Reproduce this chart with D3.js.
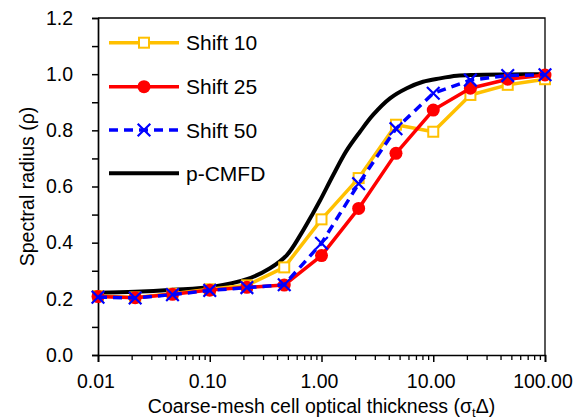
<!DOCTYPE html>
<html>
<head>
<meta charset="utf-8">
<script src="https://cdn.jsdelivr.net/npm/d3@7"></script>
<style>
  html, body { margin: 0; padding: 0; background: #fff; }
  svg { display: block; font-family: "Liberation Sans", Arial, sans-serif; }
</style>
</head>
<body>
<svg id="chart" width="584" height="420"></svg>
<script>
// ---- data ----
const xValues = [0.01, 0.0215, 0.0464, 0.1, 0.215, 0.464, 1, 2.15, 4.64, 10, 21.5, 46.4, 100];
const shift10 = [0.210, 0.205, 0.218, 0.234, 0.248, 0.312, 0.483, 0.630, 0.820, 0.795, 0.926, 0.962, 0.982];
const shift25 = [0.208, 0.204, 0.216, 0.231, 0.241, 0.249, 0.354, 0.522, 0.718, 0.872, 0.950, 0.982, 0.997];
const shift50 = [0.206, 0.203, 0.215, 0.230, 0.240, 0.250, 0.398, 0.610, 0.806, 0.932, 0.979, 0.995, 0.998];
const cmfdX = [0.01, 0.0214, 0.047, 0.107, 0.215, 0.346, 0.49, 0.64, 0.84, 0.97, 1.27, 1.66, 2.21, 2.89, 4.1, 5.8, 8.1, 11.5, 16.3, 22.7, 50, 100];
const cmfdY = [0.222, 0.225, 0.232, 0.243, 0.270, 0.309, 0.356, 0.424, 0.505, 0.550, 0.640, 0.725, 0.795, 0.855, 0.914, 0.950, 0.973, 0.985, 0.994, 0.997, 0.999, 1.000];
const xTickValues = [0.01, 0.1, 1, 10, 100];
const xTickLabels = ["0.01", "0.10", "1.00", "10.00", "100.00"];
const yTickValues = [0, 0.2, 0.4, 0.6, 0.8, 1.0, 1.2];
const seriesNames = ["Shift 10", "Shift 25", "Shift 50", "p-CMFD"];

// ---- layout ----
const svg = d3.select("#chart");
const L = 98, R = 545, T = 18, B = 355;
const x = d3.scaleLog().domain([0.01, 100]).range([L, R]);
const y = d3.scaleLinear().domain([0, 1.2]).range([B, T]);
const fontTick = 19.5;

// frame (top and right)
svg.append("path")
  .attr("d", `M${L},${T}H${R}V${B}`)
  .attr("fill", "none").attr("stroke", "#000").attr("stroke-width", 1.3);

// y axis
const yAxisG = svg.append("g").attr("transform", `translate(${L},0)`)
  .call(d3.axisLeft(y).tickValues(d3.range(0, 1.2001, 0.1)).tickSize(6).tickFormat(""));
yAxisG.select(".domain").attr("stroke-width", 1.7);
yAxisG.selectAll(".tick line").attr("stroke-width", 1.5);
svg.append("g").selectAll("text").data(yTickValues).join("text")
  .attr("x", 73).attr("y", d => y(d)).attr("dy", "0.35em")
  .attr("text-anchor", "end").attr("font-size", fontTick).attr("fill", "#000")
  .text(d => d.toFixed(1));

// x axis: major + minor ticks
const minorTicks = [];
[0.01, 0.1, 1, 10].forEach(d => { for (let k = 2; k <= 9; k++) minorTicks.push(d * k); });
const xAxisG = svg.append("g").attr("transform", `translate(0,${B})`)
  .call(d3.axisBottom(x).tickValues(xTickValues).tickSize(7).tickFormat(""));
xAxisG.select(".domain").attr("stroke-width", 1.7);
xAxisG.selectAll(".tick line").attr("stroke-width", 1.5);
svg.append("g").attr("transform", `translate(0,${B})`)
  .call(d3.axisBottom(x).tickValues(minorTicks).tickSize(5).tickFormat(""))
  .call(g => g.select(".domain").remove())
  .selectAll(".tick line").attr("stroke-width", 1.3);
svg.append("g").selectAll("text").data(xTickValues).join("text")
  .attr("x", (d, i) => x(d) - 2).attr("y", 388)
  .attr("text-anchor", "middle").attr("font-size", fontTick).attr("fill", "#000")
  .text((d, i) => xTickLabels[i]);

// axis titles
const xt = svg.append("text").attr("x", (L + R) / 2).attr("y", 413)
  .attr("text-anchor", "middle").attr("font-size", fontTick).attr("fill", "#000");
xt.append("tspan").text("Coarse-mesh cell optical thickness (σ");
xt.append("tspan").attr("dy", 4).attr("font-size", 13).text("t");
xt.append("tspan").attr("dy", -4).text("Δ)");

svg.append("text").attr("transform", `translate(34,${(T + B) / 2}) rotate(-90)`)
  .attr("text-anchor", "middle").attr("font-size", fontTick).attr("fill", "#000")
  .text("Spectral radius (ρ)");

// ---- series ----
const plot = svg.append("g");
const line = d3.line().x(d => x(d[0])).y(d => y(d[1]));
const smooth = d3.line().x(d => x(d[0])).y(d => y(d[1])).curve(d3.curveCatmullRom.alpha(0.5));

// p-CMFD
plot.append("path").datum(cmfdX.map((v, i) => [v, cmfdY[i]]))
  .attr("d", smooth).attr("fill", "none").attr("stroke", "#000").attr("stroke-width", 4);

const YEL = "#FFC000", RED = "#FF0000", BLU = "#0000FF";

function drawSquare(g, cx, cy) {
  g.append("rect").attr("x", cx - 5).attr("y", cy - 5).attr("width", 10).attr("height", 10)
    .attr("fill", "#fff").attr("stroke", YEL).attr("stroke-width", 2);
}
function drawCircle(g, cx, cy) {
  g.append("circle").attr("cx", cx).attr("cy", cy).attr("r", 6.5).attr("fill", RED);
}
function drawCross(g, cx, cy) {
  const s = 6.3;
  g.append("path").attr("d", `M${cx - s},${cy - s}L${cx + s},${cy + s}M${cx - s},${cy + s}L${cx + s},${cy - s}`)
    .attr("stroke", BLU).attr("stroke-width", 2.2).attr("fill", "none");
}

// Shift 10
const d10 = xValues.map((v, i) => [v, shift10[i]]);
plot.append("path").datum(d10).attr("d", line).attr("fill", "none")
  .attr("stroke", YEL).attr("stroke-width", 3.5).attr("stroke-linejoin", "round");
const g10 = plot.append("g");
d10.forEach(d => drawSquare(g10, x(d[0]), y(d[1])));

// Shift 25
const d25 = xValues.map((v, i) => [v, shift25[i]]);
plot.append("path").datum(d25).attr("d", line).attr("fill", "none")
  .attr("stroke", RED).attr("stroke-width", 3.5).attr("stroke-linejoin", "round");
const g25 = plot.append("g");
d25.forEach(d => drawCircle(g25, x(d[0]), y(d[1])));

// Shift 50
const d50 = xValues.map((v, i) => [v, shift50[i]]);
plot.append("path").datum(d50).attr("d", line).attr("fill", "none")
  .attr("stroke", BLU).attr("stroke-width", 3.5).attr("stroke-dasharray", "9,6");
const g50 = plot.append("g");
d50.forEach(d => drawCross(g50, x(d[0]), y(d[1])));

// ---- legend ----
const lg = svg.append("g");
const legY = [42.7, 86.7, 130, 173.3];
const lx1 = 109, lx2 = 179, lmx = 144;
const styles = [
  { stroke: YEL, dash: null, mark: drawSquare },
  { stroke: RED, dash: null, mark: drawCircle },
  { stroke: BLU, dash: "9,6", mark: drawCross },
  { stroke: "#000", dash: null, mark: null }
];
seriesNames.forEach((name, i) => {
  const st = styles[i];
  const ln = lg.append("line").attr("x1", lx1).attr("x2", lx2).attr("y1", legY[i]).attr("y2", legY[i])
    .attr("stroke", st.stroke).attr("stroke-width", i === 3 ? 4 : 3.5);
  if (st.dash) ln.attr("stroke-dasharray", st.dash);
  if (st.mark) st.mark(lg, lmx, legY[i]);
  lg.append("text").attr("x", 186).attr("y", legY[i]).attr("dy", "0.36em")
    .attr("font-size", 21).attr("fill", "#000").text(name);
});
</script>
</body>
</html>
